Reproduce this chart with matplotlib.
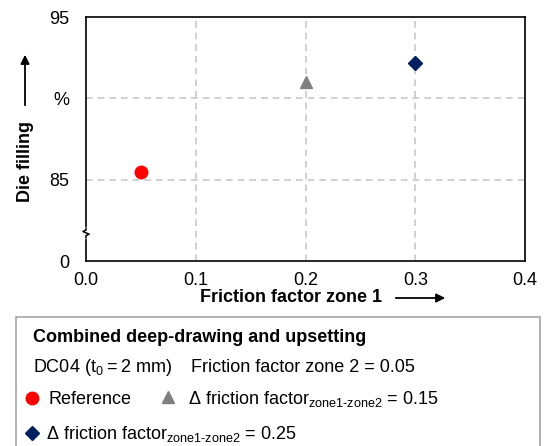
import matplotlib
matplotlib.use("Agg")
import matplotlib.pyplot as plt
from matplotlib.patches import Rectangle, FancyArrowPatch
from matplotlib.lines import Line2D

plt.rcParams['font.family'] = ['Liberation Sans', 'DejaVu Sans']
plt.rcParams['mathtext.fontset'] = 'custom'
plt.rcParams['mathtext.rm'] = 'Liberation Sans'
plt.rcParams['mathtext.it'] = 'Liberation Sans'

# data
friction_zone1 = [0.05, 0.20, 0.30]
die_filling = [85.5, 91.0, 92.2]
series_names = ['Reference', 'Δ friction factor 0.15', 'Δ friction factor 0.25']
colors = ['#ff0000', '#808080', '#002060']
markers = ['o', '^', 'D']
marker_sizes = [9, 9, 7]

x_ticks = [0.0, 0.1, 0.2, 0.3, 0.4]
y_ticks = [80, 85, 90, 95]
y_tick_labels = ['0', '85', '%', '95']

W, H = 544, 446
FS = 13

fig = plt.figure(figsize=(W / 100, H / 100), dpi=100)
ax = fig.add_axes([86 / W, 1 - 261 / H, (525 - 86) / W, (261 - 17) / H])

for x, y, c, m, s in zip(friction_zone1, die_filling, colors, markers, marker_sizes):
    ax.plot([x], [y], marker=m, color=c, markersize=s, linestyle='none', zorder=5)

ax.set_xlim(0, 0.4)
ax.set_ylim(80, 95)
ax.set_xticks(x_ticks)
ax.set_xticklabels([f'{v:.1f}' for v in x_ticks])
ax.set_yticks(y_ticks)
ax.set_yticklabels(y_tick_labels)
ax.tick_params(axis='x', length=0, labelsize=FS, pad=8)
ax.tick_params(axis='y', length=0, labelsize=FS, pad=12)

# grid only on interior lines
for v in x_ticks[1:-1]:
    ax.axvline(v, color='#c8c8c8', lw=1.2, dashes=(4, 3), zorder=1)
for v in y_ticks[1:-1]:
    ax.axhline(v, color='#c8c8c8', lw=1.2, dashes=(4, 3), zorder=1)

for sp in ax.spines.values():
    sp.set_color('black')
    sp.set_linewidth(1.2)

# axis break on the left spine
ax.plot([0, 0], [0.098, 0.132], transform=ax.transAxes, color='white',
        lw=3, clip_on=False, zorder=6)
ax.plot([0, 0, -0.007, 0.007, 0, 0], [0.135, 0.127, 0.121, 0.110, 0.104, 0.095],
        transform=ax.transAxes, color='black', lw=1.1, clip_on=False, zorder=7)

# axis labels with arrows
fig.text(25 / W, 1 - 162 / H, 'Die filling', rotation=90, fontsize=FS,
         fontweight='bold', ha='center', va='center')
fig.add_artist(FancyArrowPatch(
    (25 / W, 1 - 108 / H), (25 / W, 1 - 52 / H), transform=fig.transFigure,
    arrowstyle='-|>', mutation_scale=13, color='black', lw=1.3))
fig.text(291 / W, 1 - 298 / H, 'Friction factor zone 1', fontsize=FS,
         fontweight='bold', ha='center', va='center')
fig.add_artist(FancyArrowPatch(
    (393 / W, 1 - 298 / H), (448 / W, 1 - 298 / H), transform=fig.transFigure,
    arrowstyle='-|>', mutation_scale=13, color='black', lw=1.3))

# legend box
fig.add_artist(Rectangle((16 / W, -0.02), (540 - 16) / W, 0.02 + 1 - 317 / H,
                         transform=fig.transFigure, facecolor='white', edgecolor='#a6a6a6', lw=1.2))
fig.text(33 / W, 1 - 338 / H, 'Combined deep-drawing and upsetting', fontsize=FS,
         fontweight='bold', va='center')
fig.text(33 / W, 1 - 367 / H, 'DC04 (t$_0$\u2009=\u20092 mm)', fontsize=FS, va='center')
fig.text(191 / W, 1 - 367 / H, 'Friction factor zone 2 = 0.05', fontsize=FS, va='center')

fig.add_artist(Line2D([32 / W], [1 - 398 / H], marker=markers[0], color=colors[0],
                      markersize=marker_sizes[0], transform=fig.transFigure))
fig.text(49 / W, 1 - 399 / H, series_names[0], fontsize=FS, va='center')
fig.add_artist(Line2D([168 / W], [1 - 397 / H], marker=markers[1], color=colors[1],
                      markersize=marker_sizes[1], transform=fig.transFigure))
fig.text(188 / W, 1 - 399 / H, r'Δ friction factor$_{\text{zone1-zone2}}$ = 0.15',
         fontsize=FS, va='center')
fig.add_artist(Line2D([32 / W], [1 - 433 / H], marker=markers[2], color=colors[2],
                      markersize=marker_sizes[2], transform=fig.transFigure))
fig.text(46 / W, 1 - 434 / H, r'Δ friction factor$_{\text{zone1-zone2}}$ = 0.25',
         fontsize=FS, va='center')

fig.savefig('out.png', dpi=100)
